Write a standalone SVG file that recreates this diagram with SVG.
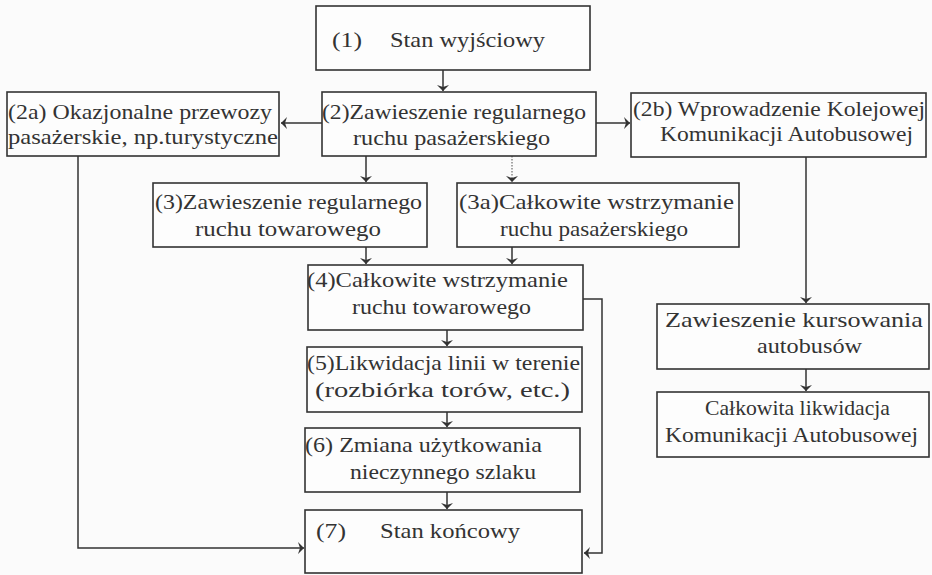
<svg xmlns="http://www.w3.org/2000/svg" width="932" height="575" viewBox="0 0 932 575">
<style>
.box{fill:#fdfdfd;stroke:#333;stroke-width:1.6}
.t{font-family:"Liberation Serif","Times New Roman",serif;font-size:22px;fill:#333}
.c{fill:none;stroke:#333;stroke-width:1.5}
.d{stroke:#888;stroke-dasharray:1.5 1.5}
</style>
<defs>
<marker id="ah" markerUnits="userSpaceOnUse" markerWidth="14" markerHeight="14" refX="0" refY="0" viewBox="-8 -7 10 14" orient="auto">
<path d="M0,0 L-6,-6 L-4,0 L-6,6 Z" fill="#333"/>
</marker>
</defs>
<rect width="932" height="575" fill="#fbfbfb"/>
<g id="connectors">
<path class="c" d="M443,70 V91" marker-end="url(#ah)"/>
<path class="c" d="M322,123 H281" marker-end="url(#ah)"/>
<path class="c" d="M596,123 H630" marker-end="url(#ah)"/>
<path class="c" d="M366,156 V182" marker-end="url(#ah)"/>
<path class="c d" d="M512,156 V182" marker-end="url(#ah)"/>
<path class="c" d="M366,247 V264" marker-end="url(#ah)"/>
<path class="c" d="M512,247 V264" marker-end="url(#ah)"/>
<path class="c" d="M447,330 V346" marker-end="url(#ah)"/>
<path class="c" d="M447,412 V427" marker-end="url(#ah)"/>
<path class="c" d="M447,492 V509" marker-end="url(#ah)"/>
<path class="c" d="M583,299 H602 V553 H584" marker-end="url(#ah)"/>
<path class="c" d="M78,156 V548 H304" marker-end="url(#ah)"/>
<path class="c" d="M806,157 V303" marker-end="url(#ah)"/>
<path class="c" d="M806,369 V391" marker-end="url(#ah)"/>
</g>
<g id="n1">
<rect class="box" x="316" y="6" width="274" height="64"/>
<text class="t" x="332" y="47" textLength="30" lengthAdjust="spacingAndGlyphs">(1)</text>
<text class="t" x="390" y="47" textLength="155" lengthAdjust="spacingAndGlyphs">Stan wyjściowy</text>
</g>
<g id="n2">
<rect class="box" x="322" y="92" width="274" height="64"/>
<text class="t" x="322" y="119" textLength="264" lengthAdjust="spacingAndGlyphs">(2)Zawieszenie regularnego</text>
<text class="t" x="353" y="145" textLength="197" lengthAdjust="spacingAndGlyphs">ruchu pasażerskiego</text>
</g>
<g id="n2a">
<rect class="box" x="7" y="92" width="272" height="64"/>
<text class="t" x="8" y="119" textLength="264" lengthAdjust="spacingAndGlyphs">(2a) Okazjonalne przewozy</text>
<text class="t" x="8" y="144" textLength="270" lengthAdjust="spacingAndGlyphs">pasażerskie, np.turystyczne</text>
</g>
<g id="n2b">
<rect class="box" x="631" y="93" width="295" height="64"/>
<text class="t" x="633" y="116" textLength="292" lengthAdjust="spacingAndGlyphs">(2b) Wprowadzenie Kolejowej</text>
<text class="t" x="660" y="141" textLength="253" lengthAdjust="spacingAndGlyphs">Komunikacji Autobusowej</text>
</g>
<g id="n3">
<rect class="box" x="153" y="183" width="274" height="64"/>
<text class="t" x="155" y="209" textLength="267" lengthAdjust="spacingAndGlyphs">(3)Zawieszenie regularnego</text>
<text class="t" x="195" y="236" textLength="186" lengthAdjust="spacingAndGlyphs">ruchu towarowego</text>
</g>
<g id="n3a">
<rect class="box" x="457" y="183" width="282" height="64"/>
<text class="t" x="459" y="209" textLength="275" lengthAdjust="spacingAndGlyphs">(3a)Całkowite wstrzymanie</text>
<text class="t" x="500" y="236" textLength="188" lengthAdjust="spacingAndGlyphs">ruchu pasażerskiego</text>
</g>
<g id="n4">
<rect class="box" x="308" y="265" width="275" height="65"/>
<text class="t" x="307" y="287" textLength="261" lengthAdjust="spacingAndGlyphs">(4)Całkowite wstrzymanie</text>
<text class="t" x="352" y="314" textLength="179" lengthAdjust="spacingAndGlyphs">ruchu towarowego</text>
</g>
<g id="n5">
<rect class="box" x="307" y="347" width="275" height="65"/>
<text class="t" x="307" y="370" textLength="273" lengthAdjust="spacingAndGlyphs">(5)Likwidacja linii w terenie</text>
<text class="t" x="315" y="397" textLength="255" lengthAdjust="spacingAndGlyphs">(rozbiórka torów, etc.)</text>
</g>
<g id="n6">
<rect class="box" x="305" y="428" width="275" height="64"/>
<text class="t" x="305" y="452" textLength="237" lengthAdjust="spacingAndGlyphs">(6) Zmiana użytkowania</text>
<text class="t" x="350" y="479" textLength="186" lengthAdjust="spacingAndGlyphs">nieczynnego szlaku</text>
</g>
<g id="n7">
<rect class="box" x="305" y="510" width="277" height="63"/>
<text class="t" x="316" y="538" textLength="30" lengthAdjust="spacingAndGlyphs">(7)</text>
<text class="t" x="380" y="538" textLength="140" lengthAdjust="spacingAndGlyphs">Stan końcowy</text>
</g>
<g id="n8">
<rect class="box" x="657" y="304" width="272" height="65"/>
<text class="t" x="665" y="327" textLength="258" lengthAdjust="spacingAndGlyphs">Zawieszenie kursowania</text>
<text class="t" x="757" y="353" textLength="105" lengthAdjust="spacingAndGlyphs">autobusów</text>
</g>
<g id="n9">
<rect class="box" x="657" y="392" width="272" height="65"/>
<text class="t" x="705" y="415" textLength="185" lengthAdjust="spacingAndGlyphs">Całkowita likwidacja</text>
<text class="t" x="665" y="442" textLength="253" lengthAdjust="spacingAndGlyphs">Komunikacji Autobusowej</text>
</g>
</svg>
